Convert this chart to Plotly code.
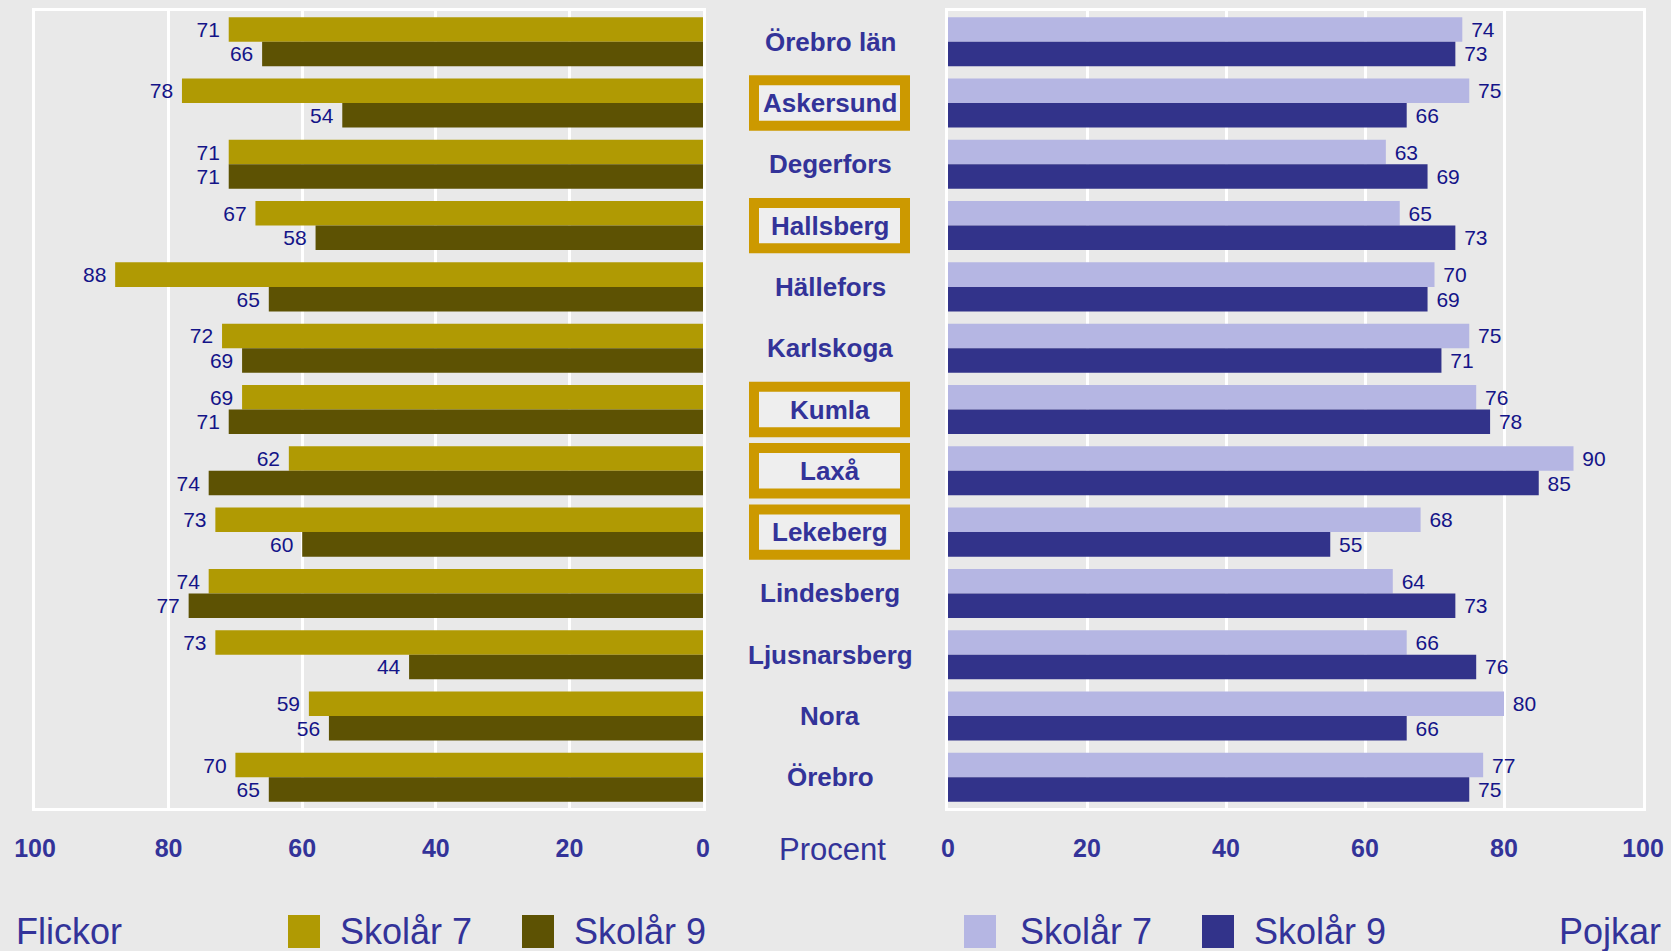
import plotly.graph_objects as go

# ---------------- data ----------------
categories = ["Örebro län", "Askersund", "Degerfors", "Hallsberg", "Hällefors",
              "Karlskoga", "Kumla", "Laxå", "Lekeberg", "Lindesberg",
              "Ljusnarsberg", "Nora", "Örebro"]
flickor_skolar7 = [71, 78, 71, 67, 88, 72, 69, 62, 73, 74, 73, 59, 70]
flickor_skolar9 = [66, 54, 71, 58, 65, 69, 71, 74, 60, 77, 44, 56, 65]
pojkar_skolar7 = [74, 75, 63, 65, 70, 75, 76, 90, 68, 64, 66, 80, 77]
pojkar_skolar9 = [73, 66, 69, 73, 69, 71, 78, 85, 55, 73, 76, 66, 75]
highlighted = ["Askersund", "Hallsberg", "Kumla", "Laxå", "Lekeberg"]
tick_values = [0, 20, 40, 60, 80, 100]
tick_labels = ["0", "20", "40", "60", "80", "100"]
series_names = ["Skolår 7", "Skolår 9"]

# ---------------- style ----------------
W, H = 1671, 951
BG = "#e9e9e9"
GOLD7 = "#b09a03"
OLIVE9 = "#5d5203"
LAV7 = "#b5b6e3"
NAVY9 = "#32338a"
TXT = "#333399"
VAL = "#141488"
FONT = "Liberation Sans, Arial, sans-serif"


def px(x):
    return x / W


def py(y):
    return 1 - y / H


fig = go.Figure()

val_font = dict(family=FONT, size=21, color=VAL)

for vals, col, name in [(flickor_skolar7, GOLD7, series_names[0]),
                        (flickor_skolar9, OLIVE9, series_names[1])]:
    fig.add_trace(go.Bar(y=categories, x=vals, orientation="h", name=name,
                         marker=dict(color=col, line=dict(width=0)),
                         text=vals, texttemplate="%{x}\u00a0", textposition="outside",
                         textfont=val_font, constraintext="none", cliponaxis=False,
                         xaxis="x", yaxis="y", showlegend=False, hoverinfo="x+y"))

for vals, col, name in [(pojkar_skolar7, LAV7, series_names[0]),
                        (pojkar_skolar9, NAVY9, series_names[1])]:
    fig.add_trace(go.Bar(y=categories, x=vals, orientation="h", name=name,
                         marker=dict(color=col, line=dict(width=0)),
                         text=vals, texttemplate="\u00a0%{x}", textposition="outside",
                         textfont=val_font, constraintext="none", cliponaxis=False,
                         xaxis="x2", yaxis="y2", showlegend=False, hoverinfo="x+y"))

ydom = [py(808), py(11)]
axis_common = dict(showline=True, linecolor="white", linewidth=3, mirror=True,
                   showgrid=True, gridcolor="white", gridwidth=3, zeroline=False,
                   tickvals=tick_values, ticktext=tick_labels, ticks="",
                   tickfont=dict(family=FONT, size=25, color=TXT, weight="bold"),
                   ticklabelstandoff=16, fixedrange=True, automargin=False)
yaxis_common = dict(autorange="reversed", showticklabels=False, showline=True,
                    linecolor="white", linewidth=3, mirror=True, showgrid=False,
                    zeroline=False, fixedrange=True, automargin=False)

fig.update_layout(
    width=W, height=H,
    margin=dict(l=0, r=0, t=0, b=0, pad=0, autoexpand=False),
    paper_bgcolor=BG, plot_bgcolor=BG,
    barmode="group", bargap=0.2, bargroupgap=0,
    xaxis=dict(domain=[px(35), px(703)], range=[100, 0], anchor="y", **axis_common),
    xaxis2=dict(domain=[px(948), px(1643)], range=[0, 100], anchor="y2", **axis_common),
    yaxis=dict(domain=ydom, anchor="x", **yaxis_common),
    yaxis2=dict(domain=ydom, anchor="x2", matches="y", **yaxis_common),
    showlegend=False,
    font=dict(family=FONT, color=TXT),
)

annotations = []
shapes = []

# category labels in the middle
for c in categories:
    annotations.append(dict(x=px(830), xref="paper", y=c, yref="y", text=f"<b>{c}</b>",
                            showarrow=False, xanchor="center", yanchor="middle",
                            font=dict(family=FONT, size=26, color=TXT)))

# gold frames around highlighted municipalities
for h in highlighted:
    i = categories.index(h)
    shapes.append(dict(type="rect", xref="paper", yref="y",
                       x0=px(754), x1=px(905), y0=i - 0.37, y1=i + 0.37,
                       line=dict(color="#cc9900", width=10), fillcolor="#eeeeee",
                       layer="above"))

# axis title
annotations.append(dict(x=px(832), xref="paper", y=py(849), yref="paper", text="Procent",
                        showarrow=False, xanchor="center", yanchor="middle",
                        font=dict(family=FONT, size=31, color=TXT)))

# legend rows
LEG_SIZE = 36
LEG_SHIFT = -3
annotations.append(dict(x=px(14), xref="paper", y=0, yref="paper", text="Flickor",
                        showarrow=False, xanchor="left", yanchor="bottom", yshift=LEG_SHIFT,
                        font=dict(family=FONT, size=LEG_SIZE, color=TXT)))
annotations.append(dict(x=px(1663), xref="paper", y=0, yref="paper", text="Pojkar",
                        showarrow=False, xanchor="right", yanchor="bottom", yshift=LEG_SHIFT,
                        font=dict(family=FONT, size=LEG_SIZE, color=TXT)))

legend_items = [(288, GOLD7, series_names[0], 338), (522, OLIVE9, series_names[1], 572),
                (964, LAV7, series_names[0], 1018), (1202, NAVY9, series_names[1], 1252)]
for sx, col, name, tx in legend_items:
    shapes.append(dict(type="rect", xref="paper", yref="paper",
                       x0=px(sx), x1=px(sx + 32), y0=py(948), y1=py(915),
                       line=dict(width=0), fillcolor=col))
    annotations.append(dict(x=px(tx), xref="paper", y=0, yref="paper", text=name,
                            showarrow=False, xanchor="left", yanchor="bottom",
                            yshift=LEG_SHIFT,
                            font=dict(family=FONT, size=LEG_SIZE, color=TXT)))

fig.update_layout(annotations=annotations, shapes=shapes)

fig.write_html("out.html", config=dict(displayModeBar=False),
               post_script="document.body.style.margin='0';document.body.style.overflow='hidden';")
